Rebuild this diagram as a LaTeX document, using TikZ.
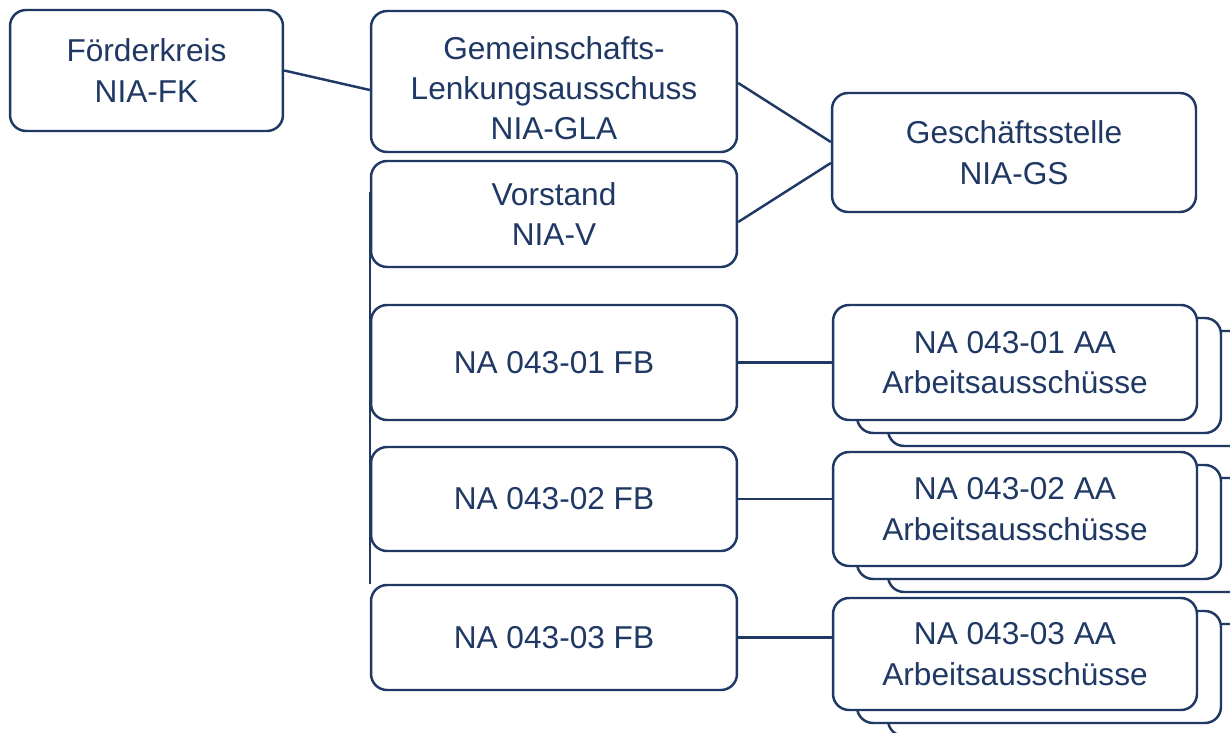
\documentclass[tikz,border=0pt]{standalone}
\usepackage{fontspec}
\setmainfont{Liberation Sans}
\definecolor{niablue}{HTML}{1F3864}
\newcommand{\lowered}[1]{\raisebox{-0.2cm}[\height][\depth]{\begin{tabular}{@{}c@{}}#1\end{tabular}}}
\tikzset{
  orgbox/.style={draw=niablue,line width=1.4pt,rounded corners=0.32cm,fill=white,
    align=center,text=niablue,inner sep=0pt,font=\fontsize{18}{23}\selectfont},
  orgline/.style={draw=niablue,line width=1.4pt}
}
\begin{document}
\begin{tikzpicture}[x=0.02cm,y=-0.02cm]
    \useasboundingbox (0,0) rectangle (1230,733);
    \clip (0,0) rectangle (1230,733);
    \fill[white] (0,0) rectangle (1230,733);

    % Leitung
    \node[orgbox,minimum width=5.46cm,minimum height=2.42cm] (fk) at (146.5,70.5) {Förderkreis\\NIA-FK};
    \node[orgbox,minimum width=7.32cm,minimum height=2.82cm] (gla) at (554,81.5) {\lowered{Gemeinschafts-\\Lenkungsausschuss\\NIA-GLA}};
    \node[orgbox,minimum width=7.32cm,minimum height=2.12cm] (vor) at (554,214) {Vorstand\\NIA-V};
    \node[orgbox,minimum width=7.28cm,minimum height=2.38cm] (gs) at (1014,152.5) {Geschäftsstelle\\NIA-GS};

    % Fachbereiche
    \node[orgbox,minimum width=7.32cm,minimum height=2.3cm] (fb1) at (554,362.5) {NA 043-01 FB};
    \node[orgbox,minimum width=7.32cm,minimum height=2.08cm] (fb2) at (554,499) {NA 043-02 FB};
    \node[orgbox,minimum width=7.32cm,minimum height=2.1cm] (fb3) at (554,637.5) {NA 043-03 FB};

    % Arbeitsausschuesse, gestapelt
    \foreach \n/\y/\h in {1/362.5/2.3cm,2/509/2.28cm,3/654/2.24cm}{
      \node[orgbox,minimum width=7.28cm,minimum height=\h] (aa\n c) at (1070,\y+26) {};
      \node[orgbox,minimum width=7.28cm,minimum height=\h] (aa\n b) at (1039,\y+13) {};
    }
    \node[orgbox,minimum width=7.28cm,minimum height=2.3cm] (aa1) at (1015,362.5) {NA 043-01 AA\\Arbeitsausschüsse};
    \node[orgbox,minimum width=7.28cm,minimum height=2.28cm] (aa2) at (1015,509) {NA 043-02 AA\\Arbeitsausschüsse};
    \node[orgbox,minimum width=7.28cm,minimum height=2.24cm] (aa3) at (1015,654) {NA 043-03 AA\\Arbeitsausschüsse};

    \draw[orgline] (fk.east) -- ([yshift=-0.17cm]gla.west);
    \draw[orgline] ([yshift=-0.03cm]gla.east) -- ([yshift=0.21cm]gs.west);
    \draw[orgline] ([yshift=-0.16cm]vor.east) -- ([yshift=-0.21cm]gs.west);
    \draw[orgline] ([yshift=0.44cm]vor.west) -- (fb3.north west);
    \foreach \n in {1,2,3}
      \draw[orgline] (fb\n.east) -- (fb\n.east -| aa\n.west);
\end{tikzpicture}
\end{document}
